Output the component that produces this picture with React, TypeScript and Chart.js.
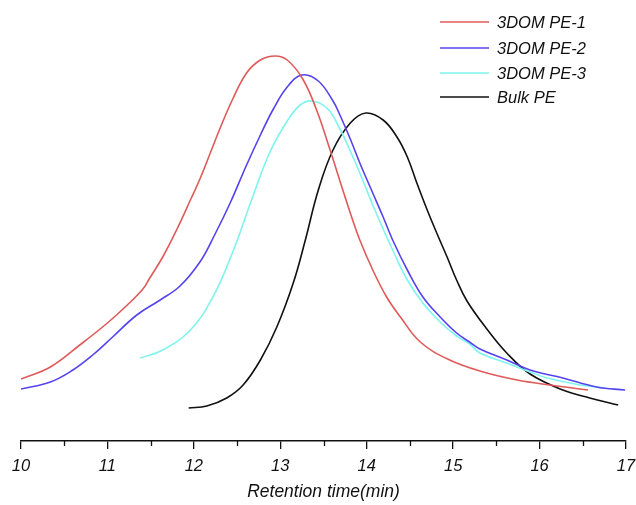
import React, { useEffect, useRef } from "react";
import { Chart, registerables } from "chart.js";

Chart.register(...registerables);

const seriesNames = ["3DOM PE-1", "3DOM PE-2", "3DOM PE-3", "Bulk PE"];
const seriesColors = ["#e05a5a", "#5544ee", "#7ff4ee", "#111111"];

const pe1T = [10.0, 10.34, 10.68, 11.0, 11.23, 11.41, 11.49, 11.64, 11.8, 11.96, 12.07, 12.19, 12.3, 12.45, 12.61, 12.77, 12.94, 13.08, 13.26, 13.42, 13.58, 13.69, 13.81, 13.92, 14.07, 14.23, 14.39, 14.62, 14.96, 15.35, 15.74, 16.12, 16.56];
const pe1V = [15.5, 18.5, 24.0, 29.5, 34.0, 38.0, 40.75, 46.0, 52.75, 60.25, 65.5, 72.0, 78.0, 85.5, 92.0, 95.25, 96.25, 95.25, 90.5, 82.75, 72.5, 65.0, 57.0, 50.25, 42.75, 36.0, 31.0, 24.75, 20.25, 17.25, 15.25, 14.0, 12.75];

const pe2T = [10.0, 10.34, 10.6, 10.83, 11.06, 11.34, 11.61, 11.84, 12.07, 12.24, 12.42, 12.61, 12.77, 12.92, 13.08, 13.25, 13.44, 13.61, 13.69, 13.81, 13.92, 14.07, 14.19, 14.3, 14.47, 14.65, 14.85, 15.04, 15.19, 15.31, 15.62, 15.89, 16.27, 16.66, 16.99];
const pe2V = [13.0, 14.75, 17.75, 21.5, 26.0, 31.5, 35.25, 38.75, 44.75, 51.5, 59.5, 69.0, 76.5, 83.0, 88.5, 91.5, 90.0, 85.0, 81.5, 75.5, 69.5, 62.0, 56.0, 50.25, 42.75, 36.0, 31.0, 27.0, 24.75, 23.0, 20.25, 17.75, 15.75, 13.5, 12.75];

const pe3T = [11.38, 11.64, 11.96, 12.22, 12.45, 12.68, 12.88, 13.08, 13.23, 13.37, 13.55, 13.69, 13.81, 13.92, 14.07, 14.19, 14.3, 14.47, 14.65, 14.85, 15.04, 15.19, 15.31, 15.62, 15.89, 16.09, 16.47, 16.76];
const pe3V = [20.75, 22.75, 27.75, 36.0, 47.25, 61.0, 72.25, 80.0, 84.0, 85.0, 83.0, 78.0, 72.5, 67.0, 59.0, 53.0, 47.75, 40.25, 34.5, 29.75, 26.25, 24.25, 22.0, 19.5, 17.25, 15.75, 14.0, 13.25];

const bulkT = [11.94, 12.15, 12.38, 12.57, 12.77, 12.96, 13.15, 13.29, 13.44, 13.61, 13.81, 13.99, 14.19, 14.35, 14.47, 14.58, 14.7, 14.81, 14.93, 15.04, 15.16, 15.39, 15.62, 15.89, 16.27, 16.58, 16.91];
const bulkV = [8.25, 8.75, 10.75, 14.0, 20.25, 28.5, 39.5, 50.25, 62.75, 72.75, 79.5, 82.0, 80.25, 76.0, 71.0, 64.5, 57.75, 52.0, 46.0, 40.25, 35.0, 28.0, 22.0, 16.75, 12.75, 10.75, 9.0];

const xTickMin = 10;
const xTickMax = 17;
const xTitle = "Retention time(min)";

const toPoints = (ts: number[], vs: number[]) => ts.map((t, i) => ({ x: t, y: vs[i] }));

const FONT = "'Liberation Sans', Arial, sans-serif";

const minorTicksPlugin = {
  id: "minorTicks",
  afterDraw(chart: any) {
    const scale = chart.scales.x;
    const ctx = chart.ctx;
    ctx.save();
    ctx.strokeStyle = "#111111";
    ctx.lineWidth = 1.3;
    for (let t = xTickMin + 0.5; t < xTickMax; t += 1) {
      const px = Math.round(scale.getPixelForValue(t)) + 0.5;
      ctx.beginPath();
      ctx.moveTo(px, scale.top);
      ctx.lineTo(px, scale.top + 5);
      ctx.stroke();
    }
    ctx.restore();
  },
};

const legendPlugin = {
  id: "customLegend",
  afterDraw(chart: any) {
    const ctx = chart.ctx;
    const rows = [22, 48, 73, 97];
    ctx.save();
    ctx.font = `italic 16.5px ${FONT}`;
    ctx.textBaseline = "middle";
    ctx.textAlign = "left";
    chart.data.datasets.forEach((ds: any, i: number) => {
      const y = rows[i];
      ctx.strokeStyle = ds.borderColor;
      ctx.lineWidth = 1.6;
      ctx.beginPath();
      ctx.moveTo(440, y);
      ctx.lineTo(489, y);
      ctx.stroke();
      ctx.fillStyle = "#111111";
      ctx.fillText(ds.label, 497, y + 1);
    });
    ctx.restore();
  },
};

export default function App() {
  const ref = useRef<HTMLCanvasElement | null>(null);

  useEffect(() => {
    if (!ref.current) return;
    const series = [
      toPoints(pe1T, pe1V),
      toPoints(pe2T, pe2V),
      toPoints(pe3T, pe3V),
      toPoints(bulkT, bulkV),
    ];
    const chart = new Chart(ref.current, {
      type: "line",
      data: {
        datasets: series.map((pts, i) => ({
          label: seriesNames[i],
          data: pts,
          borderColor: seriesColors[i],
          backgroundColor: seriesColors[i],
          borderWidth: 1.6,
          pointRadius: 0,
          fill: false,
          tension: 0.4,
        })),
      },
      options: {
        animation: false,
        responsive: false,
        devicePixelRatio: 1,
        layout: { padding: { left: 21, right: 10, top: 41, bottom: 0 } },
        plugins: {
          legend: { display: false },
          tooltip: { enabled: false },
        },
        scales: {
          x: {
            type: "linear",
            min: xTickMin,
            max: xTickMax,
            afterFit: (scale: any) => {
              scale.height = 64;
              scale.paddingLeft = 0;
              scale.paddingRight = 0;
            },
            border: { display: true, color: "#111111", width: 1.5 },
            grid: {
              drawOnChartArea: false,
              drawTicks: true,
              tickLength: 8,
              color: "#111111",
              lineWidth: 1.3,
            },
            ticks: {
              stepSize: 1,
              padding: 8,
              color: "#111111",
              font: { family: FONT, size: 16.5, style: "italic" },
              maxRotation: 0,
            },
            title: {
              display: true,
              text: xTitle,
              color: "#111111",
              font: { family: FONT, size: 17.5, style: "italic" },
              padding: { top: 0, bottom: 2 },
            },
          },
          y: {
            type: "linear",
            display: false,
            min: 0,
            max: 100,
          },
        },
      },
      plugins: [minorTicksPlugin, legendPlugin],
    });
    return () => chart.destroy();
  }, []);

  return (
    <div style={{ position: "fixed", left: 0, top: 0, width: 636, height: 505, background: "#fff" }}>
      <canvas ref={ref} width={636} height={505} style={{ display: "block" }} />
    </div>
  );
}
